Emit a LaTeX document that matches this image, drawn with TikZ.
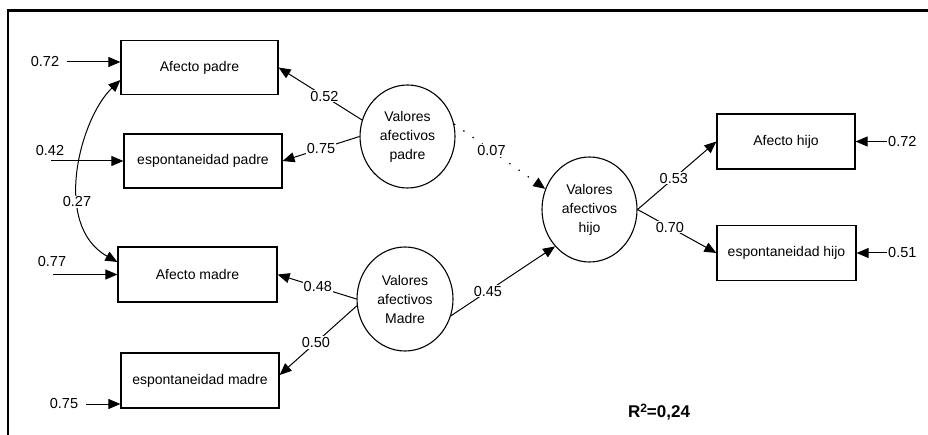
\documentclass[tikz,border=0pt]{standalone}
\usepackage{fontspec}
\setmainfont{Liberation Sans}
\usetikzlibrary{arrows.meta,shapes.geometric}
\begin{document}
\begin{tikzpicture}[x=1pt,y=-1pt,
  box/.style={draw,line width=1.2pt,minimum height=54pt,inner sep=0pt,font=\fontsize{14}{17}\selectfont},
  lat/.style={draw,ellipse,line width=1.1pt,minimum width=95pt,minimum height=103pt,inner sep=0pt,align=center,font=\fontsize{14}{19}\selectfont},
  coef/.style={font=\fontsize{14.5}{17}\selectfont,inner sep=1pt},
  oncoef/.style={coef,fill=white},
  conn/.style={line width=1pt,-{Triangle[length=12pt,width=10pt]}},
  dconn/.style={line width=1pt,{Triangle[length=12pt,width=10pt]}-{Triangle[length=12pt,width=10pt]}},
]
\useasboundingbox (0,0) rectangle (928,435);
\draw[line width=2.3pt] (8,435) -- (8,10.5) -- (928,10.5);

\node[box,minimum width=157pt] (ap) at (199.5,67.5) {Afecto padre};
\node[box,minimum width=158pt] (ep) at (203,161) {espontaneidad padre};
\node[box,minimum width=159pt,minimum height=55pt] (am) at (197.5,274.5) {Afecto madre};
\node[box,minimum width=158pt,minimum height=55pt] (em) at (200,380.5) {espontaneidad madre};
\node[box,minimum width=138pt,minimum height=55pt] (ah) at (786,141.5) {Afecto hijo};
\node[box,minimum width=139pt,minimum height=55pt] (eh) at (786.5,253) {espontaneidad hijo};

\node[lat] (vp) at (407.5,136.5) {Valores\\afectivos\\padre};
\node[lat,minimum height=105pt] (vh) at (589.5,209.5) {Valores\\afectivos\\hijo};
\node[lat,minimum width=96pt,minimum height=104pt] (vm) at (405,299) {Valores\\afectivos\\Madre};

\draw[conn] (vp.160) -- (ap.east) node[oncoef,pos=0.45]{0.52};
\draw[conn] (vp.west) -- (ep.east) node[oncoef,pos=0.5]{0.75};
\draw[conn] (vm.west) -- (am.east) node[oncoef,pos=0.49]{0.48};
\draw[conn] (vm.188) -- ([yshift=5.5pt]em.east) node[oncoef,pos=0.53]{0.50};
\draw[conn,line width=1.3pt,dash pattern=on 1.3pt off 10pt] (vp.15) -- (vh.155) node[oncoef,pos=0.41]{0.07};
\draw[conn] (vm.-20) -- (vh.227) node[oncoef,pos=0.355]{0.45};
\draw[conn] (vh.east) -- (ah.west) node[oncoef,pos=0.46]{0.53};
\draw[conn] (vh.east) -- (eh.west) node[oncoef,pos=0.41]{0.70};

\draw[dconn] ([yshift=-12.5pt]ap.west) .. controls +(-40,38) and +(-66,-37) .. ([yshift=12.5pt]am.west);
\node[coef,fill=white] (c27) at (77,202) {0.27};

\node[coef] (r1) at (45,62) {0.72};
\draw[conn] ([xshift=7pt]r1.east) -- (r1.east -| ap.west);
\node[coef] (r2) at (50,151) {0.42};
\coordinate (s2) at (51,161);
\draw[conn] (s2) -- (s2 -| ep.west);
\node[coef] (r3) at (52,262) {0.77};
\coordinate (s3) at (53,274.5);
\draw[conn] (s3) -- (am.west);
\node[coef] (r4) at (64,404) {0.75};
\draw[conn] ([xshift=7pt]r4.east) -- (r4.east -| em.west);
\node[coef,anchor=west] (r5) at (887,141.5) {0.72};
\draw[conn] (r5.west) -- (ah.east);
\node[coef,anchor=west] (r6) at (887,253) {0.51};
\draw[conn] (r6.west) -- (eh.east);

\node[font=\bfseries\fontsize{17}{20}\selectfont] (rsq) at (659,412) {R\raisebox{0.5ex}{\fontsize{12}{12}\selectfont 2}=0,24};
\end{tikzpicture}
\end{document}
